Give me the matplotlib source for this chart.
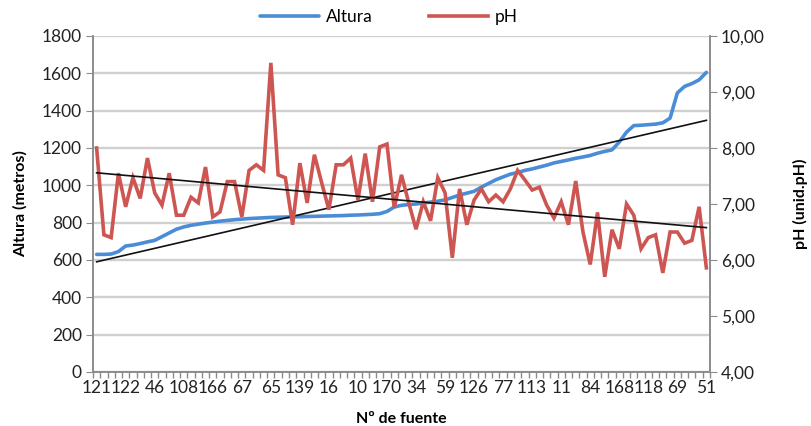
import numpy as np
import matplotlib
matplotlib.use("Agg")
import matplotlib.pyplot as plt
from matplotlib.ticker import FixedLocator, FuncFormatter

plt.rcParams["font.family"] = ["Lato", "DejaVu Sans"]

# source numbers shown on the axis (one every 4 sources)
fuentes_etiquetadas = [121, 122, 46, 108, 166, 67, 65, 139, 16, 10, 170,
                       34, 59, 126, 77, 113, 11, 84, 168, 118, 69, 51]
paso_etiqueta = 4

altura = [630, 630, 632, 645, 675, 680, 688, 697, 705, 725,
          745, 765, 777, 786, 792, 798, 803, 808, 812, 816,
          819, 822, 824, 826, 828, 829, 830, 831, 832, 833,
          834, 835, 836, 837, 838, 840, 841, 843, 845, 848,
          860, 884, 893, 897, 900, 905, 910, 915, 922, 935,
          948, 958, 968, 990, 1010, 1030, 1045, 1060, 1068, 1080,
          1088, 1098, 1108, 1120, 1128, 1136, 1145, 1152, 1160, 1172,
          1182, 1190, 1232, 1285, 1320, 1322, 1325, 1328, 1335, 1360,
          1495, 1530, 1545, 1565, 1605]

ph = [8.00, 6.45, 6.40, 7.55, 6.95, 7.47, 7.10, 7.82, 7.20, 6.98,
      7.55, 6.80, 6.80, 7.12, 7.02, 7.66, 6.77, 6.86, 7.40, 7.40,
      6.77, 7.60, 7.70, 7.60, 9.52, 7.52, 7.47, 6.63, 7.73, 7.02,
      7.88, 7.38, 6.90, 7.70, 7.70, 7.82, 7.07, 7.90, 7.04, 8.02,
      8.07, 6.93, 7.52, 7.02, 6.55, 7.04, 6.70, 7.47, 7.20, 6.04,
      7.27, 6.63, 7.07, 7.27, 7.04, 7.16, 7.04, 7.27, 7.60, 7.43,
      7.25, 7.30, 6.98, 6.75, 7.04, 6.63, 7.41, 6.50, 5.92, 6.85,
      5.70, 6.54, 6.20, 7.00, 6.80, 6.20, 6.40, 6.45, 5.77, 6.50,
      6.50, 6.30, 6.35, 6.95, 5.86]

azul = "#4a8dd6"
rojo = "#cd5652"
gris_eje = "#8c8c8c"
gris_rejilla = "#d0d0d0"

x = np.arange(len(altura))

fig = plt.figure(figsize=(8.12, 4.26), dpi=100)
ax1 = fig.add_axes([93 / 812, 1 - 372 / 426, (710 - 93) / 812, (372 - 36) / 426])
ax2 = ax1.twinx()

l1, = ax1.plot(x, altura, color=azul, lw=2.6, solid_capstyle="round", label="Altura")
l2, = ax2.plot(x, ph, color=rojo, lw=2.6, solid_joinstyle="miter", label="pH")

# linear trend lines
a_fit = np.polyfit(x, altura, 1)
p_fit = np.polyfit(x, ph, 1)
ax1.plot(x, np.polyval(a_fit, x), color="#111111", lw=1.2, zorder=3)
ax2.plot(x, np.polyval(p_fit, x), color="#111111", lw=1.2, zorder=3)

ax1.set_xlim(-0.5, len(x) - 0.5)
ax1.set_ylim(0, 1800)
ax1.set_yticks(range(0, 1801, 200))
ax2.set_ylim(4, 10)
ax2.set_yticks(range(4, 11))
ax2.yaxis.set_major_formatter(FuncFormatter(lambda v, p: f"{v:.2f}".replace(".", ",")))

ax1.grid(axis="y", color=gris_rejilla, lw=1.7)
ax1.set_axisbelow(True)

pos = list(range(0, len(x), paso_etiqueta))
ax1.set_xticks(pos)
ax1.set_xticklabels([str(f) for f in fuentes_etiquetadas])
ax1.tick_params(axis="x", length=0, pad=6, labelsize=12.5, colors="#222222")
ax1.xaxis.set_minor_locator(FixedLocator(np.arange(-0.5, len(x), 1.0)))
ax1.tick_params(axis="x", which="minor", length=4, color=gris_eje, width=1)

ax1.tick_params(axis="y", length=5, color=gris_eje, labelsize=12.5, labelcolor="#222222", pad=3)
ax2.tick_params(axis="y", length=5, color=gris_eje, labelsize=12.5, labelcolor="#222222", pad=3)

for ax in (ax1, ax2):
    ax.spines["top"].set_visible(False)
    for s in ("left", "right", "bottom"):
        ax.spines[s].set_color(gris_eje)
        ax.spines[s].set_linewidth(1.2)

ax1.set_ylabel("Altura (metros)", fontsize=11.5, fontweight="bold", labelpad=10)
ax2.set_ylabel("pH (unid.pH)", fontsize=11.5, fontweight="bold", rotation=90, labelpad=20)
fig.text(401 / 812, 1 - 412 / 426, "Nº de fuente", ha="center", va="top",
         fontsize=11.5, fontweight="bold")

fig.legend(handles=[l1, l2], loc="center", bbox_to_anchor=(389 / 812, 1 - 17 / 426),
           ncol=2, frameon=False, fontsize=12.5, handlelength=3.4,
           handletextpad=0.4, columnspacing=3.2)

fig.savefig("out.png", dpi=100)
